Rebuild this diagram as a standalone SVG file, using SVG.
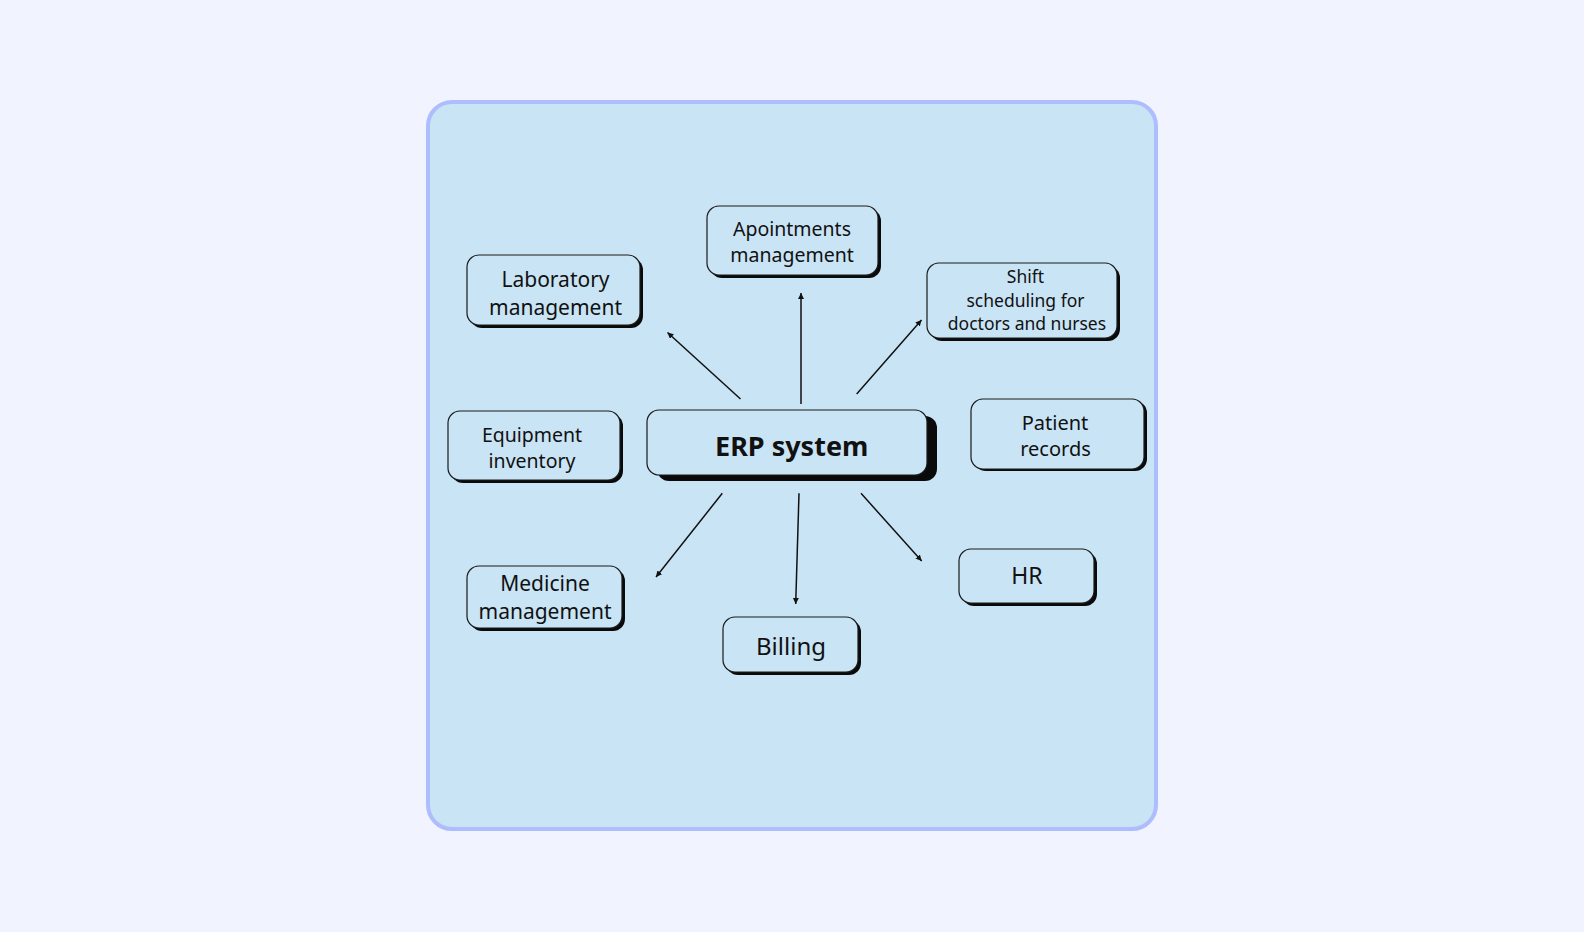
<svg xmlns="http://www.w3.org/2000/svg" width="1584" height="932" viewBox="0 0 1584 932">
  <defs>
    <marker id="ah" markerUnits="userSpaceOnUse" markerWidth="7" markerHeight="7" refX="6" refY="3" orient="auto">
      <path d="M0,0 L6,3 L0,6 z" fill="#111"/>
    </marker>
  </defs>
  <style>
    .shadow { fill: #0a0a0a; }
    .box { fill: #c9e4f5; stroke: #1a1a1a; stroke-width: 1.2; }
    .lbl { font-family: "Noto Sans", "Open Sans", sans-serif; fill: #111; text-anchor: middle; }
    .conn { stroke: #111; stroke-width: 1.5; fill: none; marker-end: url(#ah); }
  </style>
  <rect x="0" y="0" width="1584" height="932" fill="#f1f4ff"/>
  <rect id="container" x="428" y="102" width="728" height="727" rx="24" fill="#c9e4f5" stroke="#adbdfe" stroke-width="4"/>

  <g id="connectors">
    <line class="conn" x1="740.5" y1="399" x2="667.5" y2="332.5"/>
    <line class="conn" x1="801" y1="404" x2="801" y2="293"/>
    <line class="conn" x1="856.7" y1="394" x2="921.5" y2="320"/>
    <line class="conn" x1="722.3" y1="493.3" x2="656" y2="577"/>
    <line class="conn" x1="799" y1="493.3" x2="795.7" y2="604"/>
    <line class="conn" x1="861" y1="493.3" x2="921.7" y2="561"/>
  </g>

  <g id="lab">
    <rect class="shadow" x="470" y="258" width="173" height="70" rx="12"/>
    <rect class="box" x="467" y="255" width="173" height="70" rx="12"/>
    <text class="lbl" font-size="21" x="555.5" y="287">Laboratory</text>
    <text class="lbl" font-size="21" x="555.5" y="315">management</text>
  </g>

  <g id="appointments">
    <rect class="shadow" x="710" y="209" width="171" height="69" rx="12"/>
    <rect class="box" x="707" y="206" width="171" height="69" rx="12"/>
    <text class="lbl" font-size="19.5" x="792" y="236">Apointments</text>
    <text class="lbl" font-size="19.5" x="792" y="262">management</text>
  </g>

  <g id="shift">
    <rect class="shadow" x="930" y="266" width="190" height="75" rx="12"/>
    <rect class="box" x="927" y="263" width="190" height="75" rx="12"/>
    <text class="lbl" font-size="17.5" x="1025.5" y="283">Shift</text>
    <text class="lbl" font-size="17.5" x="1025.5" y="306.5">scheduling for</text>
    <text class="lbl" font-size="17.5" x="1027" y="329.5">doctors and nurses</text>
  </g>

  <g id="equipment">
    <rect class="shadow" x="451" y="414" width="172" height="69" rx="12"/>
    <rect class="box" x="448" y="411" width="172" height="69" rx="12"/>
    <text class="lbl" font-size="19.5" x="532" y="441.7">Equipment</text>
    <text class="lbl" font-size="19.5" x="532" y="467.7">inventory</text>
  </g>

  <g id="erp">
    <rect class="shadow" x="657" y="416" width="280" height="65" rx="12"/>
    <rect class="box" x="647" y="410" width="280" height="65" rx="12"/>
    <text class="lbl" font-size="27" font-weight="bold" x="791.7" y="456">ERP system</text>
  </g>

  <g id="patient">
    <rect class="shadow" x="974" y="401" width="173" height="70" rx="12"/>
    <rect class="box" x="971" y="399" width="173" height="70" rx="12"/>
    <text class="lbl" font-size="20" x="1055" y="430">Patient</text>
    <text class="lbl" font-size="20" x="1055.5" y="456">records</text>
  </g>

  <g id="medicine">
    <rect class="shadow" x="470" y="569" width="155" height="62" rx="12"/>
    <rect class="box" x="467" y="566" width="155" height="62" rx="12"/>
    <text class="lbl" font-size="21" x="545" y="590.5">Medicine</text>
    <text class="lbl" font-size="21" x="545" y="619">management</text>
  </g>

  <g id="billing">
    <rect class="shadow" x="726" y="620" width="135" height="55" rx="12"/>
    <rect class="box" x="723" y="617" width="135" height="55" rx="12"/>
    <text class="lbl" font-size="24" x="791" y="655">Billing</text>
  </g>

  <g id="hr">
    <rect class="shadow" x="962" y="552" width="135" height="54" rx="12"/>
    <rect class="box" x="959" y="549" width="135" height="54" rx="12"/>
    <text class="lbl" font-size="23" x="1027" y="584">HR</text>
  </g>
</svg>
